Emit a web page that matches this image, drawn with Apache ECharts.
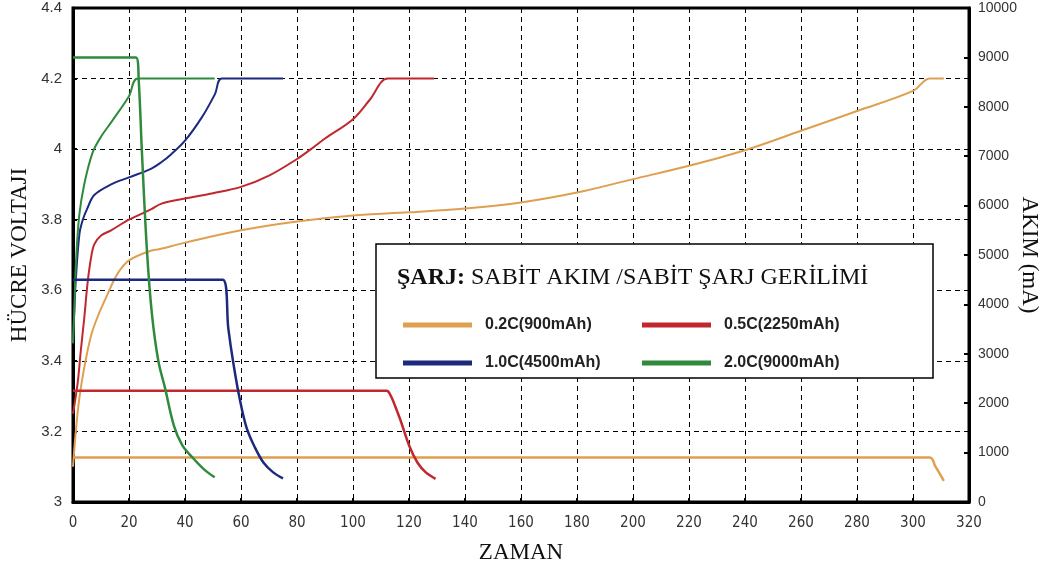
<!DOCTYPE html>
<html>
<head>
<meta charset="utf-8">
<script src="https://cdn.jsdelivr.net/npm/echarts@6/dist/echarts.min.js"></script>
<style>
html,body{margin:0;padding:0;background:#fff;}
#chart{width:1051px;height:576px;}
</style>
</head>
<body>
<div id="chart"></div>
<script>
// ---- data (time, voltage V, current mA) ----
const seriesNames = ['0.2C(900mAh)', '0.5C(2250mAh)', '1.0C(4500mAh)', '2.0C(9000mAh)'];
const xTicks = { min: 0, max: 320, interval: 20 };
const vTicks = { min: 3, max: 4.4, interval: 0.2 };
const iTicks = { min: 0, max: 10000, interval: 1000 };

// 0.2C
const t02V = [0, 1, 2.2, 4, 6.4, 8.8, 12.4, 14.7, 17, 20, 27, 31, 40, 60, 80, 100, 120, 140, 160, 180, 200, 220, 240, 260, 280, 300, 306, 311];
const v02  = [3.10, 3.20, 3.29, 3.38, 3.47, 3.525, 3.59, 3.63, 3.66, 3.685, 3.71, 3.717, 3.735, 3.77, 3.795, 3.812, 3.821, 3.832, 3.849, 3.877, 3.915, 3.953, 3.997, 4.052, 4.108, 4.165, 4.2, 4.2];
const t02I = [0, 306, 308, 311];
const i02  = [900, 900, 720, 430];

// 0.5C
const t05V = [0, 1.7, 2.8, 4, 5.2, 6.4, 7.6, 10, 13.6, 20, 28, 31.4, 40, 50, 60, 70, 80, 85, 90, 100, 106, 112.5, 129];
const v05  = [3.25, 3.34, 3.43, 3.52, 3.62, 3.69, 3.73, 3.755, 3.77, 3.80, 3.83, 3.845, 3.86, 3.875, 3.893, 3.925, 3.972, 4.0, 4.03, 4.085, 4.14, 4.2, 4.2];
const t05I = [0, 112, 113.5, 115, 117, 120, 123, 126, 129.5];
const i05  = [2250, 2250, 2150, 1950, 1650, 1150, 800, 600, 470];

// 1.0C
const t10V = [0, 0.5, 1, 2.3, 3.5, 5, 7.6, 13.6, 20, 28, 31.4, 35, 40, 46, 50.7, 53.2, 75];
const v10  = [3.45, 3.55, 3.63, 3.76, 3.80, 3.83, 3.87, 3.90, 3.92, 3.945, 3.962, 3.985, 4.024, 4.09, 4.156, 4.2, 4.2];
const t10I = [0, 53.5, 55.5, 57.3, 59.5, 62, 65, 68, 71.5, 75];
const i10  = [4500, 4500, 3500, 2800, 2100, 1500, 1100, 800, 600, 480];

// 2.0C
const t20V = [0, 0.5, 1, 2.2, 4, 7, 10, 14, 20, 23.2, 50.6];
const v20  = [3.45, 3.55, 3.67, 3.81, 3.90, 3.99, 4.035, 4.08, 4.15, 4.2, 4.2];
const t20I = [0, 22.5, 23.5, 24.6, 26.4, 28.2, 30.5, 32.9, 36, 39, 43, 47, 50.6];
const i20  = [9000, 9000, 8500, 7100, 5100, 3800, 2850, 2300, 1550, 1150, 880, 650, 500];

const colors = ['#dea050', '#c0282d', '#1b2a7e', '#2f8a3c'];

const pairs = (xs, ys) => xs.map((x, i) => [x, ys[i]]);
const volt = [pairs(t02V, v02), pairs(t05V, v05), pairs(t10V, v10), pairs(t20V, v20)];
const curr = [pairs(t02I, i02), pairs(t05I, i05), pairs(t10I, i10), pairs(t20I, i20)];

const series = [];
seriesNames.forEach((n, k) => {
  series.push({ name: n, type: 'line', yAxisIndex: 0, data: volt[k], showSymbol: false,
    smooth: 0.35, lineStyle: { color: colors[k], width: 2 }, itemStyle: { color: colors[k] } });
});
seriesNames.forEach((n, k) => {
  series.push({ name: n, type: 'line', yAxisIndex: 1, data: curr[k], showSymbol: false,
    smooth: 0.35, lineStyle: { color: colors[k], width: 2.5 }, itemStyle: { color: colors[k] } });
});

const labelFont = "'Liberation Sans', Arial, sans-serif";
const narrowFont = "'Liberation Sans Narrow', 'DejaVu Sans Condensed', 'Liberation Sans', sans-serif";
const serifFont = "'Liberation Serif', 'Times New Roman', serif";

const chart = echarts.init(document.getElementById('chart'), null, { renderer: 'canvas' });
chart.setOption({
  animation: false,
  backgroundColor: '#fff',
  grid: { left: 72, right: 82, top: 8, bottom: 74, show: true, borderColor: '#000', borderWidth: 3, backgroundColor: 'transparent' },
  title: {
    text: '{b|ŞARJ:} SABİT AKIM /SABİT ŞARJ GERİLİMİ',
    left: 397, top: 266, padding: 0, z: 20,
    textStyle: { fontFamily: serifFont, fontSize: 24, fontWeight: 'normal', color: '#111',
      rich: { b: { fontFamily: serifFont, fontSize: 24, fontWeight: 'bold', color: '#111' } } }
  },
  legend: [
    { orient: 'vertical', left: 398, top: 312, itemWidth: 69, itemHeight: 5, itemGap: 22, icon: 'rect', z: 20,
      data: [seriesNames[0], seriesNames[2]],
      textStyle: { fontFamily: labelFont, fontSize: 16, fontWeight: 'bold', color: '#222', padding: [0, 0, 0, 8] } },
    { orient: 'vertical', left: 637, top: 312, itemWidth: 69, itemHeight: 5, itemGap: 22, icon: 'rect', z: 20,
      data: [seriesNames[1], seriesNames[3]],
      textStyle: { fontFamily: labelFont, fontSize: 16, fontWeight: 'bold', color: '#222', padding: [0, 0, 0, 8] } }
  ],
  graphic: [
    { type: 'rect', z: 10, shape: { x: 376, y: 244, width: 557, height: 134 },
      style: { fill: '#fff', stroke: '#000', lineWidth: 1.5 } }
  ],
  xAxis: {
    type: 'value', min: xTicks.min, max: xTicks.max, interval: xTicks.interval,
    name: 'ZAMAN', nameLocation: 'middle', nameGap: 39,
    nameTextStyle: { fontFamily: serifFont, fontSize: 23, color: '#111' },
    axisLine: { show: true, onZero: false, lineStyle: { color: '#000', width: 3 } },
    axisTick: { show: true, inside: true, length: 4, lineStyle: { color: '#000', width: 2 } },
    axisLabel: { fontFamily: narrowFont, fontSize: 15, color: '#333', margin: 14 },
    splitLine: { show: true, lineStyle: { color: '#000', width: 1, type: [5, 4] } }
  },
  yAxis: [
    {
      type: 'value', min: vTicks.min, max: vTicks.max, interval: vTicks.interval, position: 'left',
      name: 'HÜCRE VOLTAJI', nameLocation: 'middle', nameGap: 42, nameMoveOverlap: false,
      nameTextStyle: { fontFamily: serifFont, fontSize: 23, color: '#111' },
      axisLine: { show: true, onZero: false, lineStyle: { color: '#000', width: 3 } },
      axisTick: { show: true, inside: true, length: 4, lineStyle: { color: '#000', width: 2 } },
      axisLabel: { fontFamily: labelFont, fontSize: 15, color: '#333', margin: 11,
        formatter: v => String(+v.toFixed(1)) },
      splitLine: { show: true, lineStyle: { color: '#000', width: 1, type: [5, 4] } }
    },
    {
      type: 'value', min: iTicks.min, max: iTicks.max, interval: iTicks.interval, position: 'right',
      name: 'AKIM (mA)', nameLocation: 'middle', nameGap: 49, nameRotate: -90, nameMoveOverlap: false,
      nameTextStyle: { fontFamily: serifFont, fontSize: 23, color: '#111' },
      axisLine: { show: true, onZero: false, lineStyle: { color: '#000', width: 3 } },
      axisTick: { show: true, inside: true, length: 5, lineStyle: { color: '#000', width: 2 } },
      axisLabel: { fontFamily: labelFont, fontSize: 14, color: '#333', margin: 9,
        formatter: v => String(Math.round(v)) },
      splitLine: { show: false }
    }
  ],
  series: series
});
</script>
</body>
</html>
